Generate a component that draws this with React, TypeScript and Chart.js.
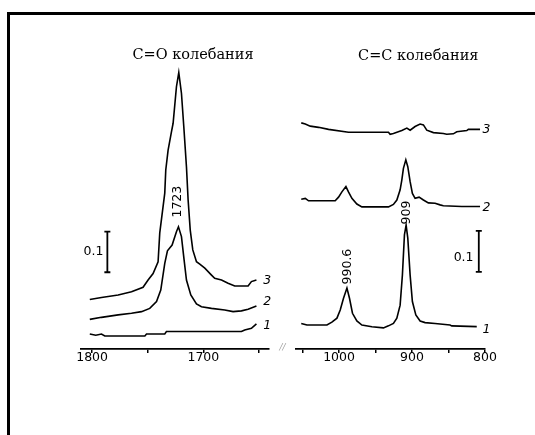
import { useEffect, useRef } from 'react';
import { Chart, registerables } from 'chart.js';

Chart.register(...registerables);

// ---------- DATA ----------
// C=O region (wavenumber, cm^-1)
const CO_WN_1 = [1802.1, 1796.7, 1791.6, 1788.6, 1752.6, 1751.1, 1734.7, 1733.2, 1665.8, 1662.8, 1656.8, 1652.3];
const CO_A_1 = [0.037, 0.034, 0.037, 0.032, 0.032, 0.037, 0.037, 0.043, 0.043, 0.047, 0.051, 0.062];

const CO_WN_2 = [1802.1, 1791.6, 1776.6, 1764.6, 1755.6, 1748.2, 1742.1, 1738.3, 1734.7, 1732.3, 1728.1, 1724.2, 1722.4, 1719.7, 1717.3, 1715.2, 1711.3, 1706.2, 1701.7, 1692.7, 1680.8, 1673.3, 1665.8, 1659.8, 1652.3];
const CO_A_2 = [0.073, 0.078, 0.084, 0.088, 0.092, 0.100, 0.117, 0.145, 0.211, 0.242, 0.256, 0.289, 0.301, 0.277, 0.219, 0.170, 0.133, 0.111, 0.104, 0.100, 0.096, 0.092, 0.094, 0.098, 0.106];

const CO_WN_3 = [1802.1, 1791.6, 1776.6, 1764.6, 1754.2, 1749.7, 1745.2, 1740.7, 1739.2, 1734.7, 1733.8, 1731.7, 1728.7, 1727.2, 1724.2, 1722.1, 1719.7, 1717.6, 1715.2, 1713.7, 1711.8, 1709.5, 1706.2, 1703.2, 1698.7, 1692.7, 1689.8, 1683.7, 1677.8, 1671.8, 1659.8, 1656.8, 1652.3];
const CO_A_3 = [0.122, 0.127, 0.133, 0.141, 0.152, 0.170, 0.186, 0.215, 0.286, 0.384, 0.441, 0.490, 0.535, 0.556, 0.646, 0.681, 0.630, 0.548, 0.449, 0.367, 0.293, 0.244, 0.215, 0.209, 0.199, 0.182, 0.174, 0.170, 0.162, 0.155, 0.155, 0.166, 0.170];

// C=C region
const CC_WN_1 = [1051.8, 1044.0, 1016.6, 1009.8, 1002.9, 998.4, 993.9, 989.2, 985.7, 981.6, 975.6, 968.7, 955.0, 939.2, 932.3, 925.5, 920.8, 916.3, 913.2, 910.4, 908.1, 905.8, 902.6, 899.5, 894.8, 888.9, 882.1, 868.4, 847.9, 845.6, 811.3];
const CC_A_1 = [0.063, 0.059, 0.059, 0.066, 0.076, 0.096, 0.125, 0.150, 0.125, 0.088, 0.069, 0.059, 0.055, 0.052, 0.057, 0.063, 0.076, 0.108, 0.182, 0.281, 0.305, 0.273, 0.182, 0.117, 0.084, 0.069, 0.065, 0.063, 0.059, 0.057, 0.055];

const CC_WN_2 = [1051.8, 1046.3, 1041.8, 1005.3, 1000.7, 996.1, 990.6, 987.1, 982.4, 975.6, 968.7, 932.3, 925.5, 920.8, 916.3, 914.0, 911.8, 908.5, 905.8, 902.6, 899.5, 895.8, 890.3, 884.4, 877.6, 868.4, 861.6, 857.1, 831.9, 806.8];
const CC_A_2 = [0.369, 0.371, 0.365, 0.365, 0.374, 0.387, 0.400, 0.387, 0.371, 0.357, 0.350, 0.350, 0.356, 0.367, 0.392, 0.416, 0.445, 0.466, 0.449, 0.412, 0.383, 0.371, 0.374, 0.367, 0.360, 0.359, 0.355, 0.353, 0.351, 0.351];

const CC_WN_3 = [1051.8, 1046.3, 1039.5, 1028.1, 1014.4, 987.1, 932.3, 930.0, 925.5, 914.0, 907.1, 902.6, 895.8, 888.9, 884.4, 879.8, 870.7, 857.1, 852.4, 843.4, 838.7, 825.0, 822.8, 806.8];
const CC_A_3 = [0.557, 0.554, 0.549, 0.546, 0.541, 0.534, 0.534, 0.529, 0.531, 0.538, 0.544, 0.539, 0.548, 0.554, 0.552, 0.539, 0.533, 0.531, 0.529, 0.530, 0.535, 0.538, 0.541, 0.541];

// Axis ranges / tick labels
const CO_RANGE = [1641, 1810];
const CC_RANGE = [800, 1059];
const TICK_STEP = 50;
const LABEL_STEP = 100;
const Y_RANGE = [0, 0.8227];

// Texts
const CO_TITLE = 'C=O колебания';
const CC_TITLE = 'C=C колебания';
const AXIS_TITLE = 'υ, СМ';
const AXIS_SUP = '-1';
const SERIES_NAMES = ['1', '2', '3'];
const SCALE_LABEL = '0.1';

// ---------- helpers ----------
type Ann =
  | { kind: 'text'; x: number; y: number; text: string; font: string; align: CanvasTextAlign; rot?: number }
  | { kind: 'bar'; x: number; y0: number; y1: number };

const NUM_FONT = '12.5px "DejaVu Sans"';
const LBL_FONT = 'italic 12.5px "DejaVu Sans"';

const CO_ANN: Ann[] = [
  { kind: 'text', x: 1722.6, y: 0.363, text: '1723', font: NUM_FONT, align: 'center', rot: -Math.PI / 2 },
  { kind: 'bar', x: 1786.3, y0: 0.189, y1: 0.289 },
  { kind: 'text', x: 1789.9, y: 0.239, text: SCALE_LABEL, font: NUM_FONT, align: 'right' },
  { kind: 'text', x: 1646.2, y: 0.0567, text: SERIES_NAMES[0], font: LBL_FONT, align: 'left' },
  { kind: 'text', x: 1646.2, y: 0.1165, text: SERIES_NAMES[1], font: LBL_FONT, align: 'left' },
  { kind: 'text', x: 1646.2, y: 0.168, text: SERIES_NAMES[2], font: LBL_FONT, align: 'left' },
];

const CC_ANN: Ann[] = [
  { kind: 'text', x: 987.5, y: 0.203, text: '990.6', font: NUM_FONT, align: 'center', rot: -Math.PI / 2 },
  { kind: 'text', x: 907.4, y: 0.336, text: '909', font: NUM_FONT, align: 'center', rot: -Math.PI / 2 },
  { kind: 'bar', x: 808.5, y0: 0.190, y1: 0.291 },
  { kind: 'text', x: 815.7, y: 0.225, text: SCALE_LABEL, font: NUM_FONT, align: 'right' },
  { kind: 'text', x: 803.4, y: 0.047, text: SERIES_NAMES[0], font: LBL_FONT, align: 'left' },
  { kind: 'text', x: 803.4, y: 0.349, text: SERIES_NAMES[1], font: LBL_FONT, align: 'left' },
  { kind: 'text', x: 803.4, y: 0.539, text: SERIES_NAMES[2], font: LBL_FONT, align: 'left' },
];

function annPlugin(anns: Ann[], extra?: (ctx: CanvasRenderingContext2D) => void) {
  return {
    id: 'ann',
    afterDraw(chart: any) {
      const ctx: CanvasRenderingContext2D = chart.ctx;
      const xs = chart.scales.x;
      const ys = chart.scales.y;
      ctx.save();
      ctx.fillStyle = '#000';
      ctx.strokeStyle = '#000';
      for (const a of anns) {
        if (a.kind === 'bar') {
          const px = xs.getPixelForValue(a.x);
          const p0 = ys.getPixelForValue(a.y0);
          const p1 = ys.getPixelForValue(a.y1);
          ctx.lineWidth = 1.8;
          ctx.beginPath();
          ctx.moveTo(px, p0);
          ctx.lineTo(px, p1);
          ctx.moveTo(px - 3, p0);
          ctx.lineTo(px + 3, p0);
          ctx.moveTo(px - 3, p1);
          ctx.lineTo(px + 3, p1);
          ctx.stroke();
        } else {
          const px = xs.getPixelForValue(a.x);
          const py = ys.getPixelForValue(a.y);
          ctx.save();
          ctx.translate(px, py);
          if (a.rot) ctx.rotate(a.rot);
          ctx.font = a.font;
          ctx.textAlign = a.align;
          ctx.textBaseline = 'middle';
          ctx.fillText(a.text, 0, 0);
          ctx.restore();
        }
      }
      if (extra) extra(ctx);
      ctx.restore();
    },
  };
}

function series(xs: number[], ys: number[]) {
  return {
    data: xs.map((x, i) => ({ x, y: ys[i] })),
    borderColor: '#000',
    borderWidth: 1.6,
    pointRadius: 0,
    tension: 0,
    fill: false,
  };
}

function makeConfig(sets: any[], range: number[], padding: any, plugin: any) {
  return {
    type: 'line' as const,
    data: { datasets: sets },
    options: {
      animation: false as const,
      responsive: false,
      events: [],
      layout: { padding },
      plugins: { legend: { display: false }, tooltip: { enabled: false } },
      scales: {
        x: {
          type: 'linear' as const,
          min: range[0],
          max: range[1],
          reverse: true,
          afterFit: (s: any) => {
            s.height = 30;
          },
          grid: { display: true, drawOnChartArea: false, drawTicks: true, tickLength: 4, color: '#000', lineWidth: 1.5 },
          border: { display: true, color: '#000', width: 1.8 },
          ticks: {
            stepSize: TICK_STEP,
            includeBounds: false,
            autoSkip: false,
            maxRotation: 0,
            padding: -2.5,
            color: '#000',
            font: { family: 'DejaVu Sans', size: 12.5 },
            callback: (v: any) => (Number(v) % LABEL_STEP === 0 ? String(v) : ''),
          },
        },
        y: { display: false, min: Y_RANGE[0], max: Y_RANGE[1] },
      },
    },
    plugins: [plugin],
  };
}

function drawPageTexts(ctx: CanvasRenderingContext2D) {
  ctx.fillStyle = '#000';
  ctx.textBaseline = 'alphabetic';
  ctx.font = '14.5px "DejaVu Serif"';
  ctx.textAlign = 'center';
  ctx.fillText(CO_TITLE, 193, 58.5);
  ctx.fillText(CC_TITLE, 418.3, 59.5);
  ctx.font = '16px "DejaVu Serif"';
  ctx.textAlign = 'right';
  ctx.fillText(AXIS_TITLE, 278.5, 403.5);
  ctx.font = '11px "DejaVu Serif"';
  ctx.textAlign = 'left';
  ctx.fillText(AXIS_SUP, 282.5, 390);
  ctx.fillStyle = '#999';
  ctx.font = 'italic 9px "DejaVu Serif"';
  ctx.textAlign = 'center';
  ctx.textBaseline = 'middle';
  ctx.fillText('//', 282.5, 348);
}

export default function App() {
  const leftRef = useRef<HTMLCanvasElement>(null);
  const rightRef = useRef<HTMLCanvasElement>(null);

  useEffect(() => {
    document.body.style.overflow = 'hidden';
    const left = new Chart(
      leftRef.current!,
      makeConfig(
        [series(CO_WN_1, CO_A_1), series(CO_WN_2, CO_A_2), series(CO_WN_3, CO_A_3)],
        CO_RANGE,
        { left: 81, right: 535 - 269, top: 15, bottom: 1 },
        annPlugin(CO_ANN, drawPageTexts)
      ) as any
    );
    const right = new Chart(
      rightRef.current!,
      makeConfig(
        [series(CC_WN_1, CC_A_1), series(CC_WN_2, CC_A_2), series(CC_WN_3, CC_A_3)],
        CC_RANGE,
        { left: 296, right: 535 - 485, top: 15, bottom: 1 },
        annPlugin(CC_ANN)
      ) as any
    );
    return () => {
      left.destroy();
      right.destroy();
    };
  }, []);

  return (
    <div style={{ position: 'absolute', left: 0, top: 0, width: 535, height: 435, background: '#fff', overflow: 'hidden' }}>
      <div
        style={{
          position: 'absolute',
          left: 7,
          top: 12,
          width: 528,
          height: 423,
          borderTop: '3px solid #000',
          borderLeft: '3px solid #000',
          boxSizing: 'border-box',
        }}
      />
      <canvas ref={leftRef} width={535} height={380} style={{ position: 'absolute', left: 0, top: 0 }} />
      <canvas ref={rightRef} width={535} height={380} style={{ position: 'absolute', left: 0, top: 0 }} />
    </div>
  );
}
